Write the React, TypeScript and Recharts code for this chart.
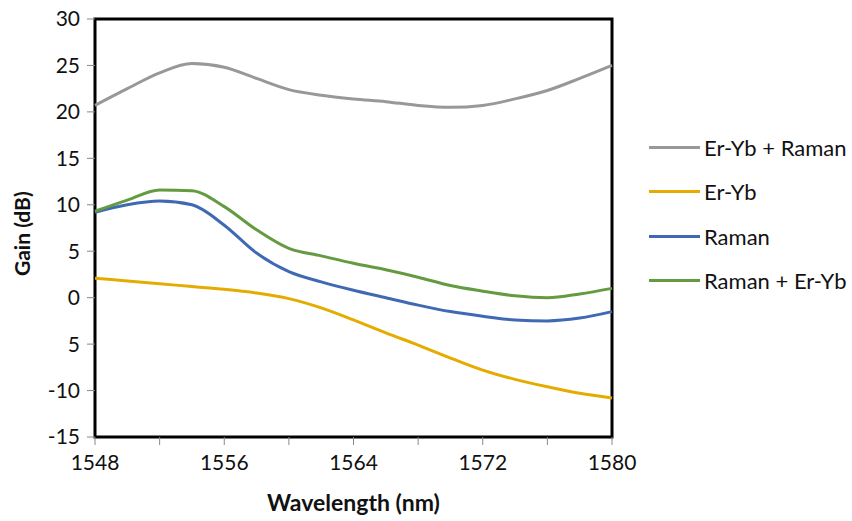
import React from "react";
import {
  LineChart, Line, XAxis, YAxis, ReferenceArea,
} from "recharts";

// wavelength samples (nm)
const wavelengths = [1548, 1550, 1552, 1554, 1556, 1558, 1560, 1562, 1564, 1566, 1568, 1570, 1572, 1574, 1576, 1578, 1580];

// gain values (dB)
const erYbRaman = [20.7, 22.5, 24.2, 25.2, 24.8, 23.6, 22.4, 21.8, 21.4, 21.1, 20.7, 20.5, 20.7, 21.4, 22.3, 23.6, 25.0];
const erYb = [2.1, 1.8, 1.5, 1.2, 0.9, 0.5, -0.1, -1.1, -2.4, -3.8, -5.1, -6.5, -7.8, -8.8, -9.6, -10.3, -10.8];
const raman = [9.2, 10.0, 10.4, 10.0, 7.8, 4.8, 2.8, 1.7, 0.8, 0.0, -0.8, -1.5, -2.0, -2.4, -2.5, -2.2, -1.5];
const ramanErYb = [9.3, 10.5, 11.6, 11.5, 9.8, 7.3, 5.3, 4.5, 3.7, 3.0, 2.2, 1.3, 0.7, 0.2, 0.0, 0.4, 1.0];

const xTicks = [1548, 1552, 1556, 1560, 1564, 1568, 1572, 1576, 1580];
const xLabels = [1548, 1556, 1564, 1572, 1580];
const yTicks = [-15, -10, -5, 0, 5, 10, 15, 20, 25, 30];

const series = [
  { key: "erYbRaman", name: "Er-Yb + Raman", color: "#989898" },
  { key: "erYb", name: "Er-Yb", color: "#e5ab00" },
  { key: "raman", name: "Raman", color: "#3f69b3" },
  { key: "ramanErYb", name: "Raman + Er-Yb", color: "#649b41" },
];

const data = wavelengths.map((w, i) => ({
  wl: w,
  erYbRaman: erYbRaman[i],
  erYb: erYb[i],
  raman: raman[i],
  ramanErYb: ramanErYb[i],
}));

const FONT = "Lato, 'Open Sans', sans-serif";

// legend sits to the right of the plot, outside the chart's layout
const LegendBox = () => (
  <div style={{ position: "absolute", left: 649, top: 125, fontFamily: FONT, fontSize: 22, color: "#111" }}>
    {series.map((s) => (
      <div key={s.key} style={{ display: "flex", alignItems: "center", height: 44.5 }}>
        <div style={{ width: 51, height: 3, background: s.color, marginRight: 4 }} />
        <span style={{ whiteSpace: "nowrap" }}>{s.name}</span>
      </div>
    ))}
  </div>
);

export default function App() {
  return (
    <div style={{ position: "fixed", left: 0, top: 0, width: 852, height: 521, background: "#fff", overflow: "hidden" }}>
      <LineChart width={852} height={521} data={data} margin={{ top: 19, right: 240, left: 35, bottom: 44 }}>
        <XAxis
          dataKey="wl" type="number" domain={[1548, 1580]} ticks={xTicks} interval={0}
          tickFormatter={(v) => (xLabels.includes(v) ? String(v) : "")}
          axisLine={false} tickLine={{ stroke: "#888" }} tickSize={8} tickMargin={10}
          tick={{ fontSize: 21, fill: "#111", fontFamily: FONT }}
          height={40}
          label={{ value: "Wavelength (nm)", position: "insideBottom", offset: -34, fontSize: 23, fontWeight: 700, fill: "#111", fontFamily: FONT }}
        />
        <YAxis
          type="number" domain={[-15, 30]} ticks={yTicks} width={60} interval={0}
          tickFormatter={(v) => (v === -5 ? "5" : String(v))}
          axisLine={false} tickLine={{ stroke: "#888" }} tickSize={8} tickMargin={7}
          tick={{ fontSize: 21, fill: "#111", fontFamily: FONT }}
          label={{ value: "Gain (dB)", angle: -90, position: "insideLeft", offset: -12, dy: 48, fontSize: 21, fontWeight: 700, fill: "#111", fontFamily: FONT }}
        />
        <ReferenceArea x1={1548} x2={1580} y1={-15} y2={30} fill="none" stroke="#000" strokeWidth={3} ifOverflow="visible" />
        {series.map((s) => (
          <Line key={s.key} type="monotone" dataKey={s.key} name={s.name} stroke={s.color}
            strokeWidth={3} dot={false} isAnimationActive={false} />
        ))}
      </LineChart>
      <LegendBox />
    </div>
  );
}
